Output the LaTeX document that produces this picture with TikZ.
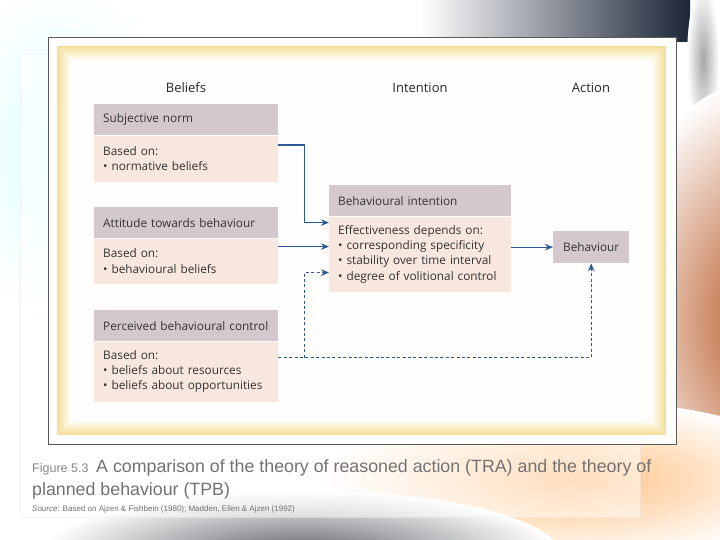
\documentclass[tikz,border=0pt]{standalone}
\usepackage{fontspec}
\setmainfont{Open Sans}
\newfontfamily\capfont{Liberation Sans}
\usepackage{tikz}
\usetikzlibrary{arrows.meta,positioning}

\definecolor{hdrgray}{HTML}{D3C8CE}
\definecolor{bodypeach}{HTML}{F7E7DE}
\definecolor{linkblue}{HTML}{2E5A93}
\definecolor{boxtext}{HTML}{333333}
\definecolor{bandyellow}{HTML}{F5DE98}
\definecolor{capgray}{HTML}{727272}
\definecolor{framegray}{HTML}{5A5A5A}
\definecolor{steelsky}{HTML}{8FB3CC}
\definecolor{nightnavy}{HTML}{1C2638}
\definecolor{rustorange}{HTML}{B5531F}
\definecolor{shadowgray}{HTML}{5E6066}

\tikzset{
  hdr/.style={rectangle, fill=hdrgray, text width=166pt, inner xsep=9pt, inner ysep=0pt,
    minimum height=31pt, align=left, text=boxtext, font=\fontsize{11.8}{15.3}\selectfont},
  body/.style={hdr, fill=bodypeach},
  coltitle/.style={text=black!85, font=\fontsize{13}{15}\selectfont},
  link/.style={draw=linkblue, line width=1.4pt, -{Stealth[length=8pt,width=6.5pt]}},
  dlink/.style={link, line width=1.2pt, dash pattern=on 3pt off 2.4pt},
  caption/.style={anchor=base west, inner sep=0pt, text=capgray, font=\capfont},
}

\begin{document}
\begin{tikzpicture}[x=1pt,y=-1pt]
\useasboundingbox (0,0) rectangle (720,540);
\fill[white] (0,0) rectangle (720,540);
% blurred photo behind the slide
\shade[inner color=cyan!12, outer color=white] (60,150) ellipse (120 and 170);
\shade[left color=white, middle color=steelsky, right color=nightnavy] (420,0) rectangle (690,42);
\shade[inner color=gray!70, outer color=white] (703,60) ellipse (16 and 75);
\shade[inner color=rustorange, outer color=white] (765,320) ellipse (160 and 240);
\shade[inner color=orange!50, outer color=white] (570,480) ellipse (250 and 80);
\shade[inner color=shadowgray, outer color=white] (300,555) ellipse (260 and 65);
% slide panel
\fill[white, opacity=0.5, draw=gray!15] (20,54) rectangle (640,517);
% figure frame
\filldraw[fill=white, draw=framegray, line width=0.8pt] (48,37) rectangle (676,444);
\foreach \i [evaluate=\i as \p using 100-7*\i] in {0,...,14}
  \fill[bandyellow!\p!white] (57+\i,46+\i) rectangle (666-\i,435-\i);

% column titles
\node[coltitle] (beliefs) at (186,88) {Beliefs};
\node[coltitle] (intention) at (420,88) {Intention};
\node[coltitle] (action) at (591,88) {Action};

% beliefs
\node[hdr, anchor=north west] (sn) at (94,104) {Subjective norm};
\node[body, below=0pt of sn, minimum height=46pt] (snb) {Based on:\\\textbullet\ normative beliefs};
\node[hdr, anchor=north west] (at) at (94,207) {Attitude towards behaviour};
\node[body, below=0pt of at, minimum height=45pt] (atb) {Based on:\\\textbullet\ behavioural beliefs};
\node[hdr, anchor=north west] (pc) at (94,310) {\mbox{Perceived behavioural control}};
\node[body, below=0pt of pc, minimum height=60pt] (pcb) {Based on:\\\textbullet\ beliefs about resources\\\textbullet\ beliefs about opportunities};

% intention
\node[hdr, anchor=north west, text width=164pt] (bi) at (329,185) {Behavioural intention};
\node[body, below=0pt of bi, text width=164pt, minimum height=75pt] (bib) {Effectiveness depends on:\\\textbullet\ corresponding specificity\\\textbullet\ stability over time interval\\\textbullet\ degree of volitional control};

% action
\node[hdr, anchor=north west, text width=58pt, align=center, minimum height=32pt] (beh) at (553,231) {Behaviour};

% connectors
\draw[link] ([yshift=13.5pt]snb.east) -- ++(26,0) |- ([yshift=31.5pt]bib.west);
\draw[link] ([yshift=14.5pt]atb.east) -- ([yshift=7.5pt]bib.west);
\draw[dlink] ([yshift=14pt]pcb.east) -| (beh.south);
\draw[dlink] ([yshift=14pt]pcb.east) ++(26,0) |- ([yshift=-18.5pt]bib.west);
\draw[link] (bib.east |- beh.west) -- (beh.west);

% caption
\node[caption, font=\capfont\fontsize{12.5}{14}\selectfont, text=capgray!85] (fignum) at (32,472) {Figure 5.3};
\node[caption, font=\capfont\fontsize{17.8}{20}\selectfont] (captop) at (96,472) {A comparison of the theory of reasoned action (TRA) and the theory of};
\node[caption, font=\capfont\fontsize{17.8}{20}\selectfont] (capbot) at (32,495) {planned behaviour (TPB)};
\node[caption, font=\capfont\fontsize{8}{9}\selectfont] (capsrc) at (32,511) {\textit{Source}: Based on Ajzen \& Fishbein (1980); Madden, Ellen \& Ajzen (1992)};
\end{tikzpicture}
\end{document}
